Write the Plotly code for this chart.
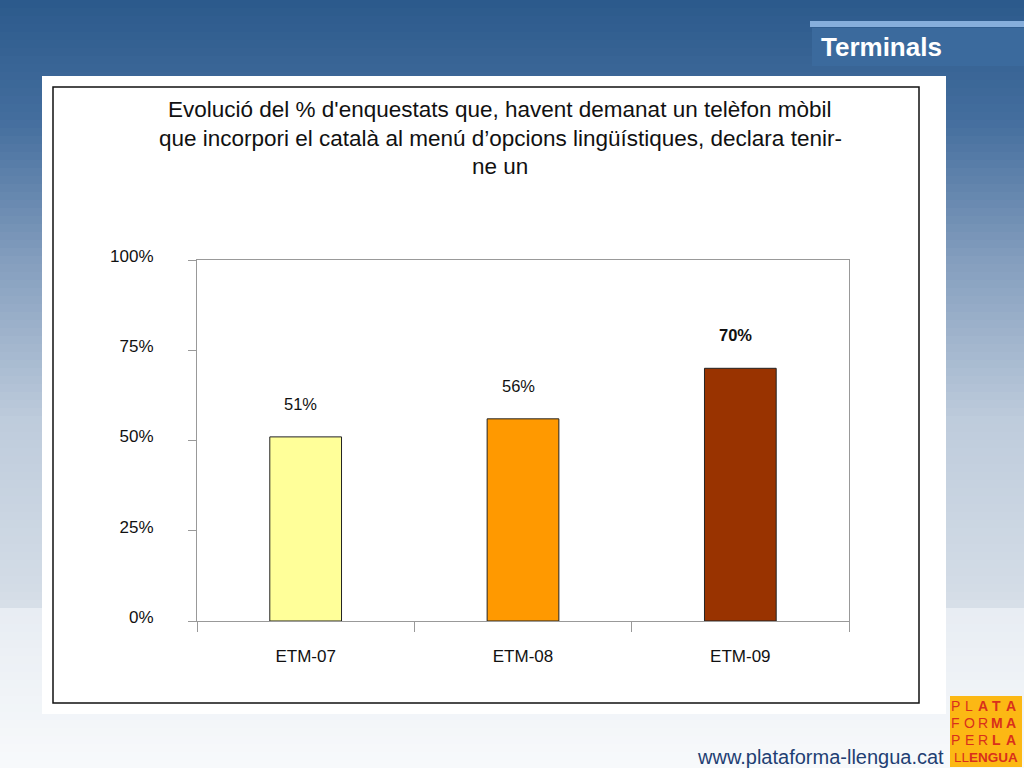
import plotly.graph_objects as go

# ---- data ----
categories = ["ETM-07", "ETM-08", "ETM-09"]
values = [51, 56, 70]
value_labels = ["51%", "56%", "<b>70%</b>"]
bar_colors = ["#FFFF99", "#FF9900", "#993300"]
y_tickvals = [0, 25, 50, 75, 100]
y_ticktext = ["0%", "25%", "50%", "75%", "100%"]
title_lines = [
    "Evolució del % d'enquestats que, havent demanat un telèfon mòbil",
    "que incorpori el català al menú d’opcions lingüístiques, declara tenir-",
    "ne un",
]
logo_rows = [
    [("P", False), ("L", False), ("A", True), ("T", True), ("A", True)],
    [("F", False), ("O", False), ("R", False), ("M", True), ("A", True)],
    [("P", False), ("E", False), ("R", False), ("L", True), ("A", True)],
]

W, H = 1024, 768
FONT = "Liberation Sans, Arial, sans-serif"

def px(x):
    return x / W

def py(y):
    return 1 - y / H

fig = go.Figure()
fig.add_trace(go.Bar(
    x=categories, y=values,
    marker=dict(color=bar_colors, line=dict(color="#222222", width=1)),
    width=0.33, hoverinfo="skip",
))

shapes = []
# background gradient (top blue -> light bottom)
stops = [(0, (44, 90, 140)), (120, (68, 110, 158)), (260, (132, 158, 190)),
         (420, (190, 204, 220)), (604, (214, 222, 232)), (610, (232, 237, 243)),
         (768, (248, 250, 252))]
n = 96
for i in range(n):
    y0 = H * i / n
    y1 = H * (i + 1) / n + 1
    ym = (y0 + y1) / 2
    for j in range(len(stops) - 1):
        if stops[j][0] <= ym <= stops[j + 1][0]:
            a, ca = stops[j]
            b, cb = stops[j + 1]
            t = (ym - a) / (b - a)
            c = tuple(int(ca[k] + (cb[k] - ca[k]) * t) for k in range(3))
            break
    shapes.append(dict(type="rect", xref="paper", yref="paper",
                       x0=0, x1=1, y0=py(min(y1, H)), y1=py(y0),
                       fillcolor="rgb(%d,%d,%d)" % c, line=dict(width=0), layer="below"))
# Terminals banner
shapes.append(dict(type="rect", xref="paper", yref="paper", x0=px(810), x1=1,
                   y0=py(27), y1=py(21), fillcolor="#86aedb", line=dict(width=0), layer="below"))
shapes.append(dict(type="rect", xref="paper", yref="paper", x0=px(812), x1=1,
                   y0=py(66), y1=py(28), fillcolor="#3b6a9d", line=dict(width=0), layer="below"))
# white panel
shapes.append(dict(type="rect", xref="paper", yref="paper", x0=px(42), x1=px(946),
                   y0=py(714), y1=py(76), fillcolor="white", line=dict(width=0), layer="below"))
# black frame
shapes.append(dict(type="rect", xref="paper", yref="paper", x0=px(53), x1=px(919),
                   y0=py(703), y1=py(87), fillcolor="rgba(0,0,0,0)",
                   line=dict(color="#111111", width=1.5), layer="below"))
# logo box
shapes.append(dict(type="rect", xref="paper", yref="paper", x0=px(950), x1=px(1022),
                   y0=py(767), y1=py(696), fillcolor="#FCB814", line=dict(width=0), layer="above"))

annotations = []
title_y = [109, 138, 167]
for line, yy in zip(title_lines, title_y):
    annotations.append(dict(text=line, xref="paper", yref="paper", x=px(500), y=py(yy),
                            xanchor="center", yanchor="middle", showarrow=False,
                            font=dict(family=FONT, size=22.5, color="#111111")))
for cat, v, lab in zip(categories, values, value_labels):
    annotations.append(dict(text=lab, x=cat, y=v, xref="x", yref="y", yshift=33, xshift=-5,
                            showarrow=False, yanchor="middle",
                            font=dict(family=FONT, size=16.5, color="#111111")))
annotations.append(dict(text="<b>Terminals</b>", xref="paper", yref="paper", x=px(881), y=py(47),
                        xanchor="center", yanchor="middle", showarrow=False,
                        font=dict(family=FONT, size=26, color="white")))
annotations.append(dict(text="www.plataforma-llengua.cat", xref="paper", yref="paper",
                        x=px(946), y=py(757), xanchor="right", yanchor="middle", showarrow=False,
                        font=dict(family=FONT, size=20, color="#1f3f73")))
# logo letters
logo_color = "#D9301C"
logo_cols = [955.5, 969, 982.5, 996.5, 1011]
for r, row in enumerate(logo_rows):
    for c, (ch, bold) in enumerate(row):
        annotations.append(dict(text=("<b>%s</b>" % ch) if bold else ch,
                                xref="paper", yref="paper", x=px(logo_cols[c]), y=py(706 + r * 17),
                                xanchor="center", yanchor="middle", showarrow=False,
                                font=dict(family=FONT, size=14, color=logo_color)))
annotations.append(dict(text="LL<b>ENGUA</b>", xref="paper", yref="paper", x=px(986), y=py(757),
                        xanchor="center", yanchor="middle", showarrow=False,
                        font=dict(family=FONT, size=13.5, color=logo_color)))

fig.update_layout(
    width=W, height=H,
    margin=dict(l=0, r=0, t=0, b=0, pad=0),
    paper_bgcolor="white",
    plot_bgcolor="#FFFFCC",
    showlegend=False,
    shapes=shapes,
    annotations=annotations,
    font=dict(family=FONT, size=17, color="#111111"),
    bargap=0.67,
)
fig.update_xaxes(
    domain=[px(197), px(849)], automargin=False,
    showline=True, linecolor="#999999", linewidth=1, mirror=True,
    ticks="outside", tickson="boundaries", ticklen=10, tickcolor="#999999",
    ticklabelstandoff=20, tickfont=dict(family=FONT, size=17, color="#111111"),
    showgrid=False, fixedrange=True,
)
fig.update_yaxes(
    domain=[py(621), py(260)], automargin=False,
    range=[0, 100],
    tickvals=y_tickvals, ticktext=y_ticktext,
    showline=True, linecolor="#999999", linewidth=1, mirror=True,
    ticks="outside", ticklen=8, tickcolor="#999999",
    ticklabelstandoff=31, ticklabelshift=-4,
    tickfont=dict(family=FONT, size=17, color="#111111"),
    showgrid=False, zeroline=False, fixedrange=True,
)

fig.write_html("out.html", config={"displayModeBar": False},
               post_script="document.body.style.margin='0';document.body.style.overflow='hidden';")
